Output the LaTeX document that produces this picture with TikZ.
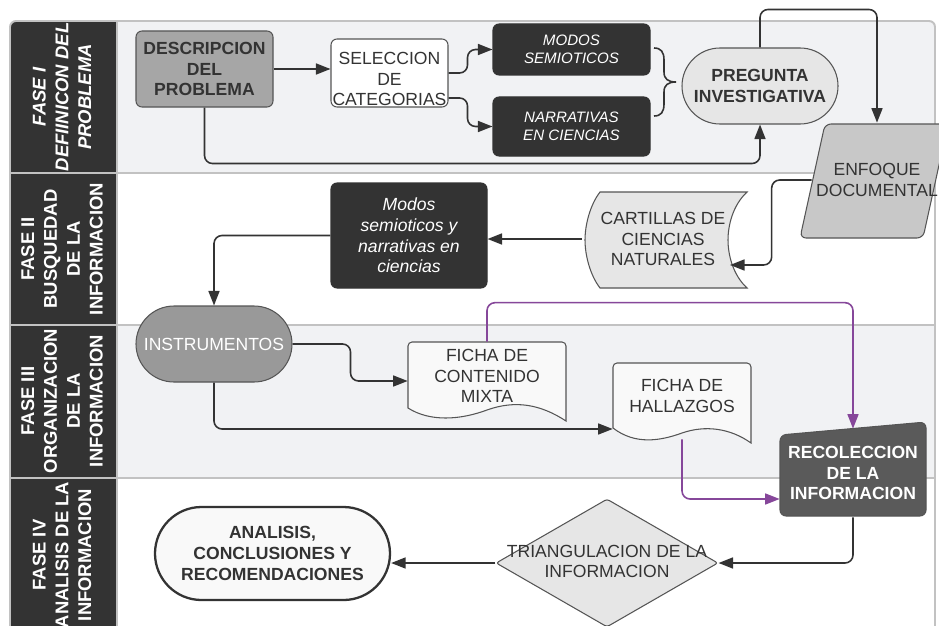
\documentclass[tikz,border=0pt]{standalone}
\usepackage{fontspec}
\setmainfont{Liberation Sans}
\usetikzlibrary{arrows.meta,shapes.geometric,shapes.misc,calc}
\definecolor{dk}{HTML}{333333}
\definecolor{bd}{HTML}{555555}
\definecolor{sepc}{HTML}{C2C2C2}
\definecolor{laneg}{HTML}{F1F2F4}
\definecolor{gD}{HTML}{A6A6A6}
\definecolor{gL}{HTML}{E6E6E6}
\definecolor{gM}{HTML}{C8C8C8}
\definecolor{gI}{HTML}{999999}
\definecolor{gR}{HTML}{5A5A5A}
\definecolor{gW}{HTML}{F9F9F9}
\definecolor{pur}{HTML}{86479A}
\begin{document}
\begin{tikzpicture}[x=0.02cm,y=-0.02cm,
  fn/.style={font=\fontsize{10}{11.8}\selectfont},
  fb/.style={font=\fontsize{10}{11.8}\selectfont\bfseries},
  fi/.style={font=\fontsize{10}{11.8}\selectfont\itshape},
  fsi/.style={font=\fontsize{8.6}{10}\selectfont\itshape},
  base/.style={inner sep=0pt, align=center, text=dk, fn},
  sz/.style 2 args={minimum width=#1*0.02cm, minimum height=#2*0.02cm},
  box/.style={base, rectangle, rounded corners=0.12cm, draw=bd, line width=0.6pt},
  stad/.style={base, rounded rectangle, draw=bd, line width=0.6pt},
  shp/.style={draw=bd, line width=0.6pt},
  hdr/.style={inner sep=0pt, align=center, text=white, rotate=90,
    font=\fontsize{10.5}{13}\selectfont\bfseries},
  con/.style={draw=dk, line width=0.9pt, rounded corners=0.16cm,
    -{Triangle[length=0.29cm,width=0.22cm]}},
  pcon/.style={con, draw=pur},
  sepl/.style={draw=sepc, line width=1.1pt}
]
\useasboundingbox (0,0) rectangle (939,625);
\fill[white] (0,0) rectangle (939,625);
% frame and lanes
\begin{scope}
  \clip[rounded corners=0.12cm] (10,21) rectangle (935,640);
  \fill[laneg] (117,21) rectangle (935,173);
  \fill[laneg] (117,325) rectangle (935,478);
  \fill[dk] (10,21) rectangle (117,640);
\end{scope}
\draw[sepl] (10,173) -- (935,173);
\draw[sepl] (10,325) -- (935,325);
\draw[sepl] (10,478) -- (935,478);
\draw[sepl] (117,21) -- (117,640);
\draw[sepl, rounded corners=0.12cm] (10,21) rectangle (935,640);

% lane headers
\node[hdr, font=\fontsize{10.5}{13}\selectfont\bfseries\itshape] (h1) at (62,97) {FASE I\\DEFIINICON DEL\\PROBLEMA};
\node[hdr] (h2) at (62,249) {FASE II\\BUSQUEDAD\\DE LA\\INFORMACION};
\node[hdr] (h3) at (62,401) {FASE III\\ORGANIZACION\\DE LA\\INFORMACION};
\node[hdr] (h4) at (62,555) {FASE IV\\ANALISIS DE LA\\INFORMACION};

% custom shapes
\draw[shp, fill=gM, rounded corners=0.12cm] (825,124) -- (948,124) -- (923,238) -- (800,238) -- cycle;
\draw[shp, fill=gL] (600,192) -- (747,192) .. controls (733,205) and (728,225) .. (728,240)
  .. controls (728,255) and (733,275) .. (747,288) -- (600,288)
  .. controls (590,275) and (585,255) .. (585,240) .. controls (585,225) and (590,205) .. (600,192) -- cycle;
\draw[shp, fill=gW] (566,421) -- (566,346) [rounded corners=0.08cm] -- (566,342) -- (408,342) [sharp corners] -- (408,408)
  .. controls (430,422) and (460,420) .. (487,410) .. controls (515,400) and (540,404) .. (566,421) -- cycle;
\draw[shp, fill=gW] (751,443) -- (751,367) [rounded corners=0.08cm] -- (751,363) -- (613,363) [sharp corners] -- (613,428)
  .. controls (635,445) and (660,441) .. (682,433) .. controls (705,425) and (730,428) .. (751,443) -- cycle;
\draw[shp, fill=gR, rounded corners=0.12cm] (780,435) -- (926,422) -- (926,516) -- (780,516) -- cycle;

% nodes
\node[box, fill=gD, sz={137}{76}, fb] (desc) at (204.5,69) {DESCRIPCION\\DEL\\PROBLEMA};
\node[box, fill=white, sz={117}{68}] (sel) at (389.5,73) {};
\node[base] (selt) at (389.5,79) {SELECCION\\DE\\CATEGORIAS};
\node[box, fill=dk, draw=dk, text=white, fsi, sz={157}{51}] (modos) at (571.5,49.5) {MODOS\\SEMIOTICOS};
\node[box, fill=dk, draw=dk, text=white, fsi, sz={157}{59}] (narr) at (571.5,126.5) {NARRATIVAS\\EN CIENCIAS};
\node[stad, fill=gL, fb, sz={156}{76}] (preg) at (760,86) {PREGUNTA\\INVESTIGATIVA};
\node[base, sz={130}{114}] (enf) at (877,180) {ENFOQUE\\DOCUMENTAL};
\node[base, sz={162}{96}] (cart) at (663,239) {CARTILLAS DE\\CIENCIAS\\NATURALES};
\coordinate (cartin) at (730,265);
\node[box, fill=dk, draw=dk, text=white, fi, sz={156}{105}] (msn) at (409,235.5) {Modos\\semioticos y\\narrativas en\\ciencias};
\node[stad, fill=gI, text=white, sz={156}{76}] (inst) at (214,344) {INSTRUMENTOS};
\node[base, sz={158}{68}] (fcm) at (487,376) {FICHA DE\\CONTENIDO\\MIXTA};
\node[base, sz={138}{66}] (fh) at (682,396) {FICHA DE\\HALLAZGOS};
\node[base, text=white, fb, sz={146}{88}] (rec) at (853,473) {RECOLECCION\\DE LA\\INFORMACION};
\node[diamond, draw=bd, line width=0.6pt, fill=gL, sz={222}{128}, inner sep=0pt, rounded corners=0.05cm] (tri) at (607,563) {};
\node[base] (trit) at (607,561.5) {TRIANGULACION DE LA\\INFORMACION};
\node[stad, draw=dk, line width=1.3pt, fill=gW, fb, sz={235}{93}] (ana) at (272.5,553.5) {ANALISIS,\\CONCLUSIONES Y\\RECOMENDACIONES};

% brace
\draw[dk, line width=0.9pt] (654,48) .. controls (661,48) and (664,52) .. (664,60) -- (664,72)
  .. controls (664,79) and (668,82) .. (676,82) .. controls (668,82) and (664,85) .. (664,92)
  -- (664,104) .. controls (664,112) and (661,116) .. (654,116);

% connectors
\draw[con] (desc.east) -- (sel.west |- desc.east);
\draw[con] (desc.south) -- ++(0,56) -| (preg.south);
\draw[con] (sel.east) -- ++(19,0) |- (modos.west);
\draw[con] ([yshift=-0.5cm]sel.east) -- ++(19,0) |- (narr.west);
\draw[con] (preg.north) -- ++(0,-38) -| (enf.north);
\draw[con] (enf.west) -- ++(-40,0) |- (cartin);
\draw[con] (cart.west) -- (msn.east |- cart.west);
\draw[con] (msn.west) -| (inst.north);
\draw[con] (inst.east) -- ++(58,0) |- ([yshift=-0.1cm]fcm.west);
\draw[con] (inst.south) |- ([yshift=-0.66cm]fh.west);
\draw[pcon] (fcm.north) -- ++(0,-39) -| (rec.north);
\draw[pcon] ([yshift=-0.2cm]fh.south) |- ([yshift=-0.52cm]rec.west);
\draw[con] (rec.south) |- (tri.east);
\draw[con] (tri.west) -- (ana.east |- tri.west);
\end{tikzpicture}
\end{document}
